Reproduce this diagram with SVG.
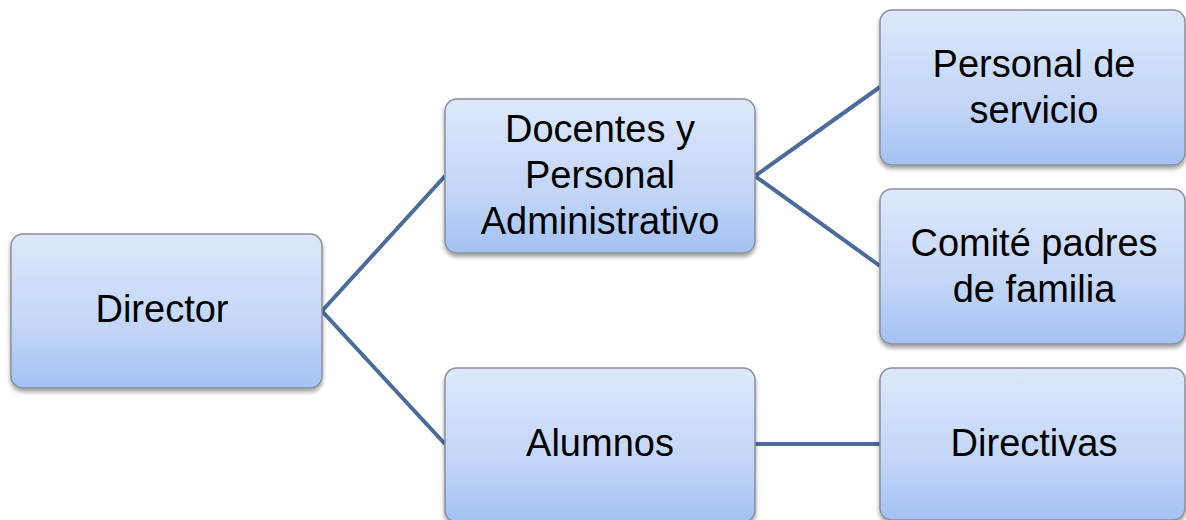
<svg xmlns="http://www.w3.org/2000/svg" width="1186" height="520" viewBox="0 0 1186 520">
<defs>
<linearGradient id="g" x1="0" y1="0" x2="0" y2="1">
<stop offset="0" stop-color="#dde8fb"/>
<stop offset="0.6" stop-color="#c3d6f8"/>
<stop offset="1" stop-color="#a3c1f3"/>
</linearGradient>
<filter id="sh" x="-10%" y="-10%" width="120%" height="130%">
<feGaussianBlur in="SourceAlpha" stdDeviation="2"/>
<feOffset dx="0" dy="3"/>
<feComponentTransfer><feFuncA type="linear" slope="0.4"/></feComponentTransfer>
<feMerge><feMergeNode/><feMergeNode in="SourceGraphic"/></feMerge>
</filter>
</defs>
<style>
.box{fill:url(#g);stroke:#8a909a;stroke-width:1.5;filter:url(#sh)}
.t{font-family:"Liberation Sans",Arial,sans-serif;font-size:38px;fill:#000;text-anchor:middle}
.c{stroke:#4a6c9c;stroke-width:4;fill:none}
</style>
<rect width="1186" height="520" fill="#fff"/>
<g id="connectors">
<polyline class="c" points="445,176 322,311 445,444"/>
<polyline class="c" points="880,87 755,176 880,266"/>
<line class="c" x1="755" y1="444" x2="880" y2="444"/>
</g>
<g id="director">
<rect class="box" x="11" y="234" width="311" height="154" rx="12"/>
<text class="t" x="162" y="322">Director</text>
</g>
<g id="docentes">
<rect class="box" x="445" y="99" width="310" height="154" rx="12"/>
<text class="t" x="600" y="142">Docentes y</text>
<text class="t" x="600" y="188">Personal</text>
<text class="t" x="600" y="234">Administrativo</text>
</g>
<g id="alumnos">
<rect class="box" x="445" y="368" width="310" height="154" rx="12"/>
<text class="t" x="600" y="456">Alumnos</text>
</g>
<g id="personal-servicio">
<rect class="box" x="880" y="10" width="305" height="155" rx="12"/>
<text class="t" x="1034" y="77">Personal de</text>
<text class="t" x="1034" y="123">servicio</text>
</g>
<g id="comite">
<rect class="box" x="880" y="189" width="305" height="155" rx="12"/>
<text class="t" x="1034" y="256">Comité padres</text>
<text class="t" x="1034" y="302">de familia</text>
</g>
<g id="directivas">
<rect class="box" x="880" y="368" width="305" height="152" rx="12"/>
<text class="t" x="1034" y="456">Directivas</text>
</g>
</svg>
